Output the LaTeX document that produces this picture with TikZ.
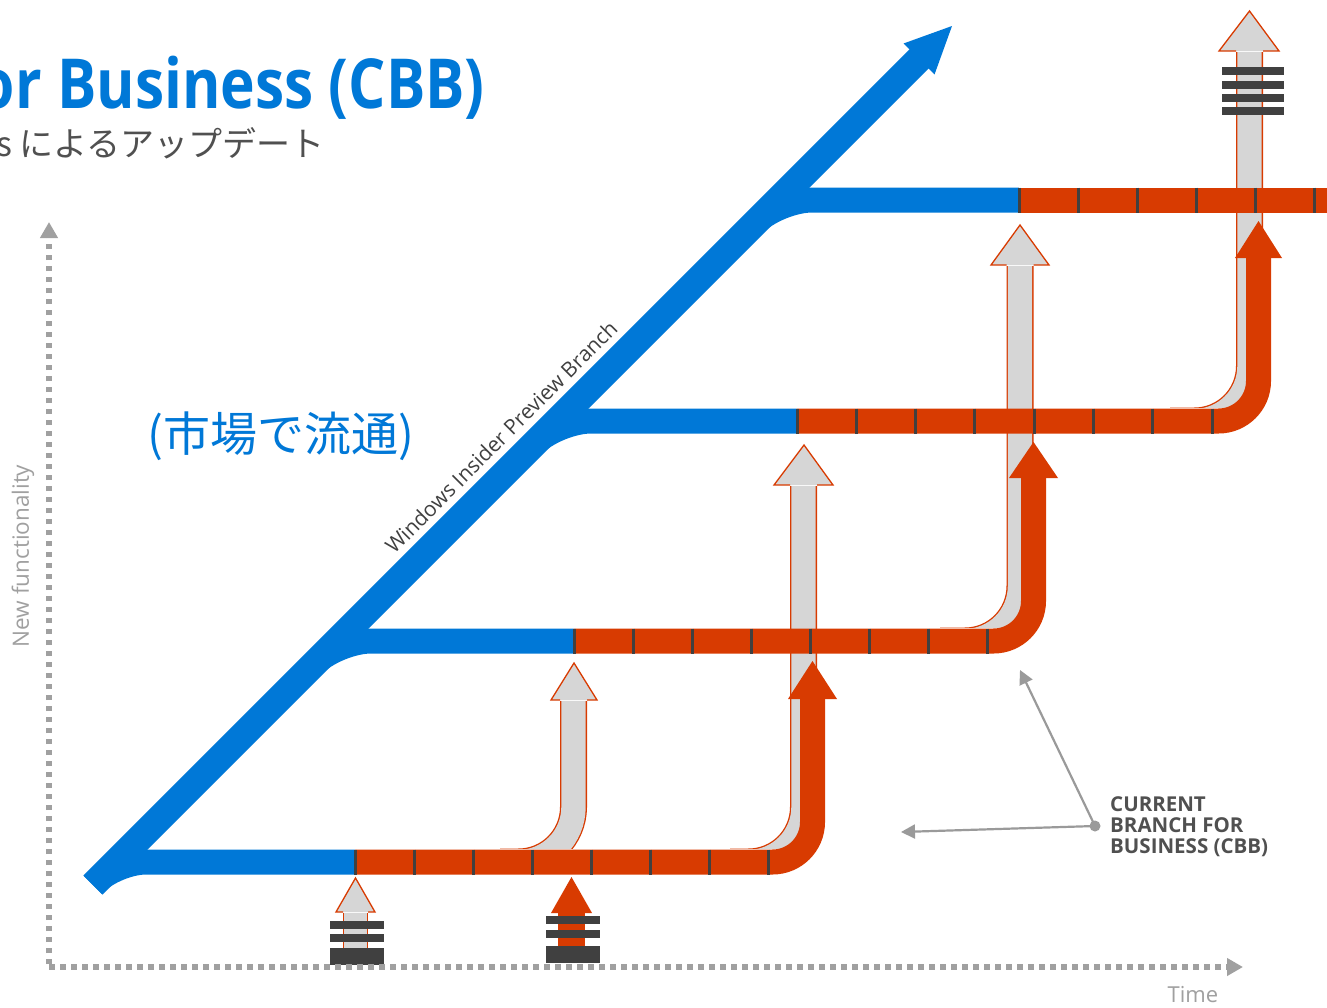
\documentclass[tikz,border=0pt]{standalone}
\usepackage{fontspec}
\usepackage{graphicx}
\setmainfont{Open Sans}
\newfontfamily\jpfont{Noto Sans CJK JP}
\usetikzlibrary{arrows.meta}
\definecolor{msblue}{HTML}{0078D7}
\definecolor{msred}{HTML}{D83B01}
\definecolor{pipegrey}{HTML}{D6D6D6}
\definecolor{barc}{HTML}{404040}
\definecolor{axisgrey}{HTML}{A0A0A0}
\definecolor{txtgrey}{HTML}{505050}
\definecolor{callgrey}{HTML}{9A9A9A}
\begin{document}
\begin{tikzpicture}[x=1pt,y=-1pt,
  bluepipe/.style={draw=msblue, line width=25pt, rounded corners=34pt},
  redpipe/.style={draw=msred, line width=25pt, rounded corners=40pt},
  greyout/.style={draw=msred, line width=27pt, rounded corners=55pt},
  greyin/.style={draw=pipegrey, line width=24.4pt, rounded corners=55pt},
  redhead/.style={fill=msred},
  greyhead/.style={fill=pipegrey, draw=msred, line width=1.3pt, line join=miter},
  tickmark/.style={draw=barc, line width=3pt},
  stackbar/.style={fill=barc},
  axisline/.style={draw=axisgrey, line width=5.5pt, dash pattern=on 5.5pt off 5.5pt,
     -{Triangle[length=16pt,width=17pt]}},
  callout/.style={draw=callgrey, line width=2.2pt, -{Triangle[length=14pt,width=14pt]}},
  ]
\useasboundingbox[fill=white] (0,0) rectangle (1327,1007);

% ---------- grey pipes (behind), clipped above the red line they rise from ----------
\begin{scope}
\clip (0,0) rectangle (1327,848.3);
% G1
\draw[greyout] (500,862) -- (573.5,862) -- (573.5,701);
\draw[greyin]  (500,862) -- (573.5,862) -- (573.5,701);
% G2
\draw[greyout] (730,862) -- (803.5,862) -- (803.5,486);
\draw[greyin]  (730,862) -- (803.5,862) -- (803.5,486);
\end{scope}
\begin{scope}
\clip (0,0) rectangle (1327,627.3);
% G3
\draw[greyout] (940,641) -- (1020,641) -- (1020,266);
\draw[greyin]  (940,641) -- (1020,641) -- (1020,266);
\end{scope}
\begin{scope}
\clip (0,0) rectangle (1327,407.3);
% G4
\draw[greyout] (1170,421) -- (1249.5,421) -- (1249.5,52);
\draw[greyin]  (1170,421) -- (1249.5,421) -- (1249.5,52);
\end{scope}
\filldraw[greyhead] (560,700) -- (551,700) -- (574,663) -- (597,700) -- (587,700);
\filldraw[greyhead] (790,485) -- (774,485) -- (804,445) -- (833,485) -- (817,485);
\filldraw[greyhead] (1006.5,265) -- (991,265) -- (1020,225) -- (1049,265) -- (1033.5,265);
\filldraw[greyhead] (1236,51) -- (1219,51) -- (1249.5,11) -- (1279,51) -- (1263,51);
% G0 (small, bottom left)
\draw[draw=msred, line width=25pt] (355.5,950) -- (355.5,913);
\draw[draw=pipegrey, line width=22.4pt] (355.5,950) -- (355.5,913);
\filldraw[greyhead] (343,912) -- (336,912) -- (355.5,878) -- (375,912) -- (368,912);

% ---------- red pipes ----------
\draw[redpipe] (355,862) -- (812.5,862) -- (812.5,698);
\fill[redhead] (788,699) -- (812.5,661) -- (837,699) -- cycle;
\draw[redpipe] (574,641) -- (1033.5,641) -- (1033.5,477);
\fill[redhead] (1009,478) -- (1033.5,442) -- (1058,478) -- cycle;
\draw[redpipe] (797,421) -- (1258.5,421) -- (1258.5,257);
\fill[redhead] (1235,258) -- (1258.5,221) -- (1282,258) -- cycle;
\draw[redpipe] (1019,200) -- (1335,200);
% R0 (small, bottom)
\draw[draw=msred, line width=27pt] (571.5,950) -- (571.5,912);
\fill[redhead] (551,913) -- (571.5,877) -- (592,913) -- cycle;

% ---------- blue branches ----------
\draw[draw=msblue, line width=25pt, rounded corners=30pt] (93,885) -- (116,862) -- (355,862);
\draw[bluepipe] (267,711) -- (337,641) -- (574,641);
\draw[bluepipe] (487,491) -- (557,421) -- (797,421);
\draw[bluepipe] (708,270) -- (778,200) -- (1019,200);
\coordinate (diagstart) at (93,885);
\coordinate (diagend) at (921,57);
\draw[draw=msblue, line width=27pt] (diagstart) -- (diagend);
\fill[msblue] (952,26) -- (903.5,43.5) -- (934.5,74.5) -- cycle;

% ---------- ticks ----------
\foreach \k in {0,...,7} {
  \draw[tickmark] (355+59*\k,849.5) -- (355+59*\k,874.5);
  \draw[tickmark] (574+59*\k,628.5) -- (574+59*\k,653.5);
  \draw[tickmark] (797+59.3*\k,408.5) -- (797+59.3*\k,433.5);
}
\foreach \k in {0,...,5} {
  \draw[tickmark] (1019+59*\k,187.5) -- (1019+59*\k,212.5);
}

% ---------- stacks ----------
\fill[stackbar] (330,921) rectangle (384,929);
\fill[stackbar] (330,934) rectangle (384,942);
\fill[stackbar] (330,948) rectangle (384,965);
\fill[stackbar] (546,916) rectangle (600,924);
\fill[stackbar] (546,930) rectangle (600,938);
\fill[stackbar] (546,946) rectangle (600,963);
\fill[stackbar] (1222,67) rectangle (1284,75);
\fill[stackbar] (1222,81) rectangle (1284,89);
\fill[stackbar] (1222,94) rectangle (1284,102);
\fill[stackbar] (1222,107) rectangle (1284,115);

% ---------- axes ----------
\coordinate (origin) at (49,967);
\coordinate (ytip) at (49,222);
\coordinate (xtip) at (1243,967);
\draw[axisline] (49,964) -- (ytip);
\draw[axisline] (origin) -- (xtip);
\node[text=axisgrey, font=\fontsize{22}{22}\selectfont, anchor=base, inner sep=0] (timelbl) at (1193,1002) {Time};
\node[text=axisgrey, font=\fontsize{22.5}{22.5}\selectfont, rotate=90, inner sep=0] (newfn) at (23,556) {New functionality};

% ---------- callout ----------
\node[circle, fill=callgrey, minimum size=11pt, inner sep=0] (cbbdot) at (1095,826) {};
\coordinate (cbbt1) at (1020,670);
\coordinate (cbbt2) at (901,832);
\draw[callout] (cbbdot.center) -- (cbbt1);
\draw[callout] (cbbdot.center) -- (cbbt2);
\node[anchor=north west, align=left, text=txtgrey, font=\bfseries\fontsize{20.5}{21}\selectfont, inner sep=0] (cbblbl) at (1110,796) {CURRENT\\BRANCH FOR\\BUSINESS (CBB)};

% ---------- texts ----------
\node[anchor=base east, text=msblue, font=\bfseries\fontsize{69}{69}\selectfont, inner sep=0] (title) at (485,108) {\scalebox{0.85}[1]{or Business (CBB)}};
\node[anchor=base east, text=txtgrey, font=\jpfont\fontsize{34}{34}\selectfont, inner sep=0] (subtitle) at (325,156) {s によるアップデート};
\node[anchor=base west, text=msblue, font=\jpfont\fontsize{47}{47}\selectfont, inner sep=0] (market) at (147,451) {(市場で流通)};
\node[rotate=45, text=barc, font=\fontsize{21}{21}\selectfont, inner sep=0] (wipb) at (501,437) {Windows Insider Preview Branch};
\end{tikzpicture}
\end{document}
